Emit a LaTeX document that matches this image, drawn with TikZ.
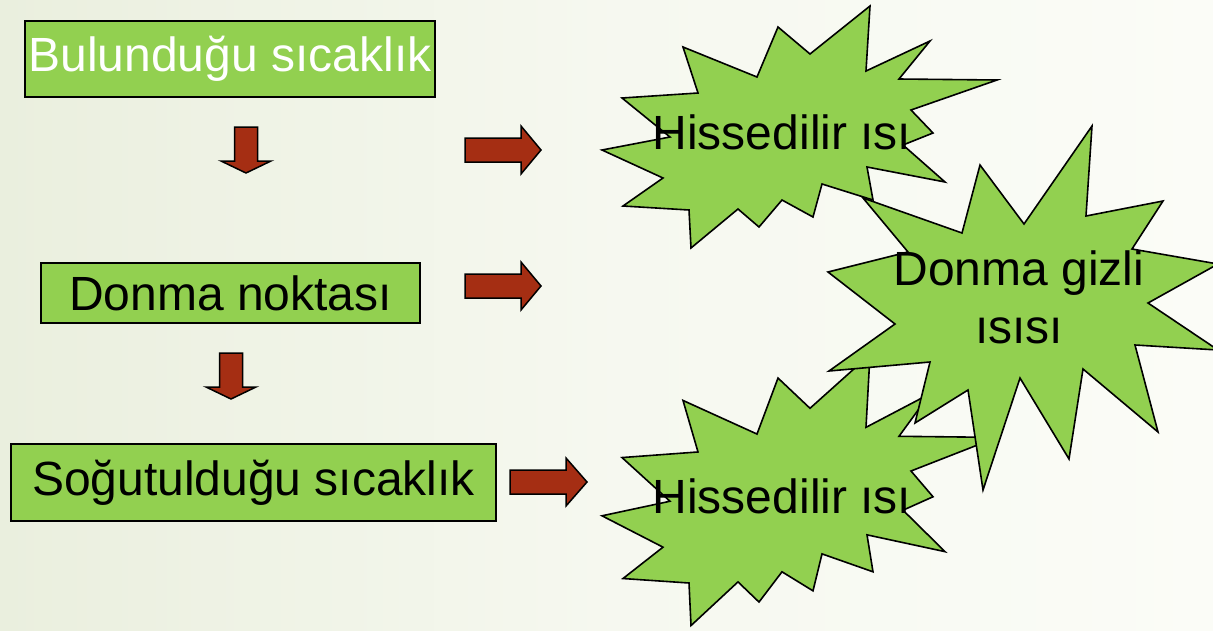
\documentclass[tikz,border=0pt]{standalone}
\usepackage{fontspec}
\setmainfont{Liberation Sans}
\definecolor{kutuyesil}{RGB}{146,208,80}
\definecolor{okkirmizi}{RGB}{165,46,19}
\definecolor{arkayesil}{RGB}{234,239,222}
\definecolor{arkabeyaz}{RGB}{251,252,247}
\tikzset{
	kutu/.style={draw=black, line width=2, fill=kutuyesil, inner sep=0},
	okblok/.style={draw=black, line width=1.5, fill=okkirmizi, line join=miter},
	yildiz/.style={draw=black, line width=1.6, fill=kutuyesil, line join=miter},
	yazi/.style={font=\fontsize{48}{58}\selectfont, inner sep=0},
	pics/patlama/.style={code={
		\draw[yildiz] (683,47) -- (757,77) -- (778,27) -- (810,54) -- (870,6) -- (866,71) -- (930,41) -- (899,79)
			-- (997,80) -- (911,110) -- (933,133) -- (903,145) -- (945,182) -- (867,167) -- (873,200) -- (822,184)
			-- (813,217) -- (782,200) -- (759,227) -- (738,209) -- (691,248) -- (689,210) -- (623,206) -- (663,178)
			-- (602,150) -- (670,137) -- (622,98) -- (698,93) -- cycle;
	}}
}
\begin{document}
\begin{tikzpicture}[x=1pt, y=-1pt]
	\useasboundingbox (0,0) rectangle (1213,630);
	\clip (0,0) rectangle (1213,630);
	\shade[left color=arkayesil, right color=arkabeyaz, middle color=arkabeyaz!70!arkayesil] (0,0) rectangle (1213,630);
	% kutular
	\node[kutu, minimum width=410, minimum height=76, text=white, yazi] (bulundugu) at (230,59) {Bulunduğu sıcaklık};
	\node[kutu, minimum width=379, minimum height=60, yazi] (donma) at (230.5,293) {Donma noktası};
	\node[kutu, minimum width=485, minimum height=77, yazi] (sogutuldugu) at (253.5,482.5) {Soğutulduğu sıcaklık};
	% oklar
	\foreach \x/\y in {246/127, 231/353} {
		\draw[okblok] (\x-11.5,\y) -- (\x+11.5,\y) -- (\x+11.5,\y+34) -- (\x+25,\y+34) -- (\x,\y+46) -- (\x-25,\y+34) -- (\x-11.5,\y+34) -- cycle;
	}
	\foreach \y in {150,286} {
		\draw[okblok] (465,\y-12) -- (521,\y-12) -- (521,\y-24) -- (541,\y) -- (521,\y+24) -- (521,\y+12) -- (465,\y+12) -- cycle;
	}
	\draw[okblok] (510,470) -- (566,470) -- (566,458) -- (587,482) -- (566,506) -- (566,494) -- (510,494) -- cycle;
	% patlamalar
	\pic[yscale=1.12] at (0,347.8) {patlama};
	\draw[yildiz] (980,165) -- (1024,224) -- (1092,126) -- (1086,216) -- (1163,201) -- (1132,249) -- (1218,264) -- (1148,303)
		-- (1218,350) -- (1135,345) -- (1158,432) -- (1083,369) -- (1069,459) -- (1020,378) -- (983,490) -- (968,390)
		-- (915,423) -- (930,362) -- (829,371) -- (895,324) -- (828,272) -- (908,252) -- (863,198) -- (962,233) -- cycle;
	\pic at (0,0) {patlama};
	\node[yazi, anchor=base] (hisse1) at (782,149) {Hissedilir ısı};
	\node[yazi, anchor=base] (hisse2) at (782,513) {Hissedilir ısı};
	\node[yazi, align=center] (gizli) at (1019,297) {Donma gizli\\ısısı};
\end{tikzpicture}
\end{document}
